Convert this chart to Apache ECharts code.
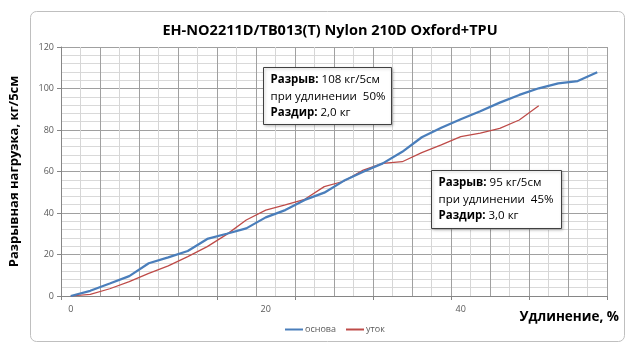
<!DOCTYPE html>
<html>
<head>
<meta charset="utf-8">
<script src="https://cdn.jsdelivr.net/npm/echarts@6/dist/echarts.min.js"></script>
<style>
html, body { margin: 0; padding: 0; background: #fff; }
#chart { width: 640px; height: 353px; }
</style>
</head>
<body>
<div id="chart"></div>
<script>
// удлинение, % (category axis, step 2)
const elongation = ['0', '2', '4', '6', '8', '10', '12', '14', '16', '18', '20', '22', '24', '26',
  '28', '30', '32', '34', '36', '38', '40', '42', '44', '46', '48', '50', '52', '54'];
// основа
const osnova = [0, 2.5, 6, 9.6, 15.8, 18.6, 21.7, 27.5, 30, 32.6, 37.9, 41.4, 46.3, 49.8,
  55.5, 59.9, 63.9, 69.5, 76.5, 81.1, 85.2, 89, 93.2, 96.9, 100.1, 102.5, 103.6, 107.8];
// уток
const utok = [0, 0.8, 3.5, 6.9, 10.9, 14.5, 19, 23.8, 29.7, 36.6, 41.4, 43.9, 46.6, 52.7,
  55.3, 60.7, 63.9, 64.7, 69.1, 72.8, 76.8, 78.5, 80.8, 84.8, 91.7];
const yMin = 0, yMax = 120, yStep = 20;

const font = 'Open Sans';
const chart = echarts.init(document.getElementById('chart'));

function noteBox(x, y, w, h, lines) {
  return {
    type: 'group',
    left: x,
    top: y,
    z: 100,
    children: [
      {
        type: 'rect',
        z: 100,
        shape: { x: 0, y: 0, width: w, height: h },
        style: { fill: '#fff', stroke: '#404040', lineWidth: 1,
          shadowBlur: 3, shadowColor: 'rgba(0,0,0,0.25)', shadowOffsetX: 1, shadowOffsetY: 1 }
      },
      {
        type: 'text',
        z: 101,
        x: 7,
        y: 4,
        style: {
          text: lines,
          fontFamily: font,
          fontSize: 11.5,
          lineHeight: 16.5,
          fill: '#000',
          rich: {
            b: { fontWeight: 'bold', fontSize: 11.5, fontFamily: font, lineHeight: 16.5 }
          }
        }
      }
    ]
  };
}

chart.setOption({
  animation: false,
  backgroundColor: '#fff',
  title: {
    text: 'EH-NO2211D/TB013(T) Nylon 210D Oxford+TPU',
    left: 325,
    textAlign: 'center',
    top: 18,
    textStyle: { fontFamily: font, fontSize: 14.5, fontWeight: 'bold', color: '#000' }
  },
  legend: {
    left: 280,
    top: 320,
    icon: 'rect',
    itemWidth: 18,
    itemHeight: 2,
    itemGap: 10,
    textStyle: { fontFamily: font, fontSize: 9, color: '#595959', padding: [0, 0, 0, -3] },
    data: ['основа', 'уток']
  },
  grid: { left: 58, right: 33, top: 47, bottom: 57 },
  xAxis: {
    type: 'category',
    data: elongation,
    boundaryGap: true,
    name: 'Удлинение, %',
    nameLocation: 'end',
    nameGap: 12,
    nameTextStyle: {
      fontFamily: font, fontSize: 13.5, fontWeight: 'bold', color: '#000',
      align: 'right', verticalAlign: 'top', padding: [14, 0, 0, 0]
    },
    axisLine: { lineStyle: { color: '#868686' } },
    axisTick: { show: true, interval: 3, length: 4, lineStyle: { color: '#868686' } },
    axisLabel: { interval: 9, fontFamily: font, fontSize: 9, color: '#595959', margin: 9 },
    splitLine: { show: true, interval: 0, lineStyle: { color: ['#a0a0a0', '#d6d6d6'], width: 1 } }
  },
  yAxis: {
    type: 'value',
    min: yMin,
    max: yMax,
    interval: yStep,
    name: 'Разрывная нагрузка, кг/5см',
    nameLocation: 'middle',
    nameGap: 40,
    nameTextStyle: { fontFamily: font, fontSize: 13, fontWeight: 'bold', color: '#000' },
    axisLine: { show: true, lineStyle: { color: '#868686' } },
    axisTick: { show: true, length: 4, lineStyle: { color: '#868686' } },
    axisLabel: { fontFamily: font, fontSize: 9, color: '#595959', margin: 7 },
    splitLine: { lineStyle: { color: '#a0a0a0' } },
    minorTick: { show: false, splitNumber: 5 },
    minorSplitLine: { show: true, lineStyle: { color: '#d9d9d9' } }
  },
  series: [
    {
      name: 'основа',
      type: 'line',
      data: osnova,
      showSymbol: false,
      color: '#4a7ebb',
      lineStyle: { width: 2.25, color: '#4a7ebb' },
      z: 3
    },
    {
      name: 'уток',
      type: 'line',
      data: utok,
      showSymbol: false,
      color: '#be4b48',
      lineStyle: { width: 1.25, color: '#be4b48' },
      z: 2
    }
  ],
  graphic: [
    {
      type: 'rect',
      left: 28,
      top: 9,
      z: -10,
      shape: { width: 594, height: 330, r: 6 },
      style: { fill: 'none', stroke: '#bfbfbf', lineWidth: 1 }
    },
    noteBox(263, 67, 128, 57,
      '{b|Разрыв:} 108 кг/5см\nпри удлинении  50%\n{b|Раздир:} 2,0 кг'),
    noteBox(431, 170, 130, 58,
      '{b|Разрыв:} 95 кг/5см\nпри удлинении  45%\n{b|Раздир:} 3,0 кг')
  ]
});
</script>
</body>
</html>
